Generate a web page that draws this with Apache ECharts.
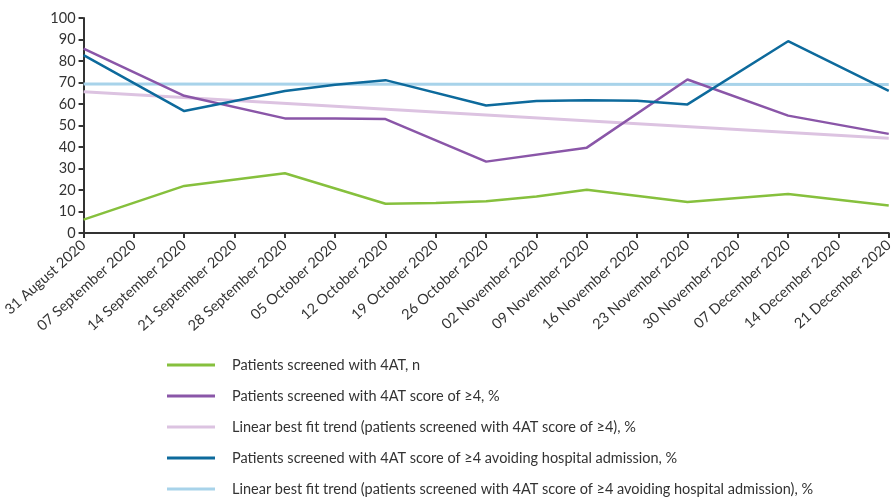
<!DOCTYPE html>
<html>
<head>
<meta charset="utf-8">
<script src="https://cdn.jsdelivr.net/npm/echarts@6/dist/echarts.min.js"></script>
<style>
html,body{margin:0;padding:0;background:#fff;}
#chart{width:896px;height:498px;}
</style>
</head>
<body>
<div id="chart"></div>
<script>
var categories = ['31 August 2020','07 September 2020','14 September 2020','21 September 2020','28 September 2020','05 October 2020','12 October 2020','19 October 2020','26 October 2020','02 November 2020','09 November 2020','16 November 2020','23 November 2020','30 November 2020','07 December 2020','14 December 2020','21 December 2020'];
var yTicks = [0,10,20,30,40,50,60,70,80,90,100];

var screened = [6.2, null, 21.9, null, 27.8, null, 13.6, 14.0, 14.8, 17.0, 20.1, null, 14.4, null, 18.1, null, 12.8];
var score4 = [85.8, null, 63.8, null, 53.3, 53.2, 53.0, null, 33.2, null, 39.7, null, 71.4, null, 54.6, null, 46.1];
var score4Trend = [65.7, null, null, null, null, null, null, null, null, null, null, null, null, null, null, null, 44.1];
var avoiding = [82.7, null, 56.7, null, 66.0, 69.0, 71.1, null, 59.3, 61.4, 61.8, 61.5, 59.8, null, 89.2, null, 66.1];
var avoidingTrend = [69.3, null, null, null, null, null, null, null, null, null, null, null, null, null, null, null, 69.1];

var names = [
  'Patients screened with 4AT, n',
  'Patients screened with 4AT score of \u22654, %',
  'Linear best fit trend (patients screened with 4AT score of \u22654), %',
  'Patients screened with 4AT score of \u22654 avoiding hospital admission, %',
  'Linear best fit trend (patients screened with 4AT score of \u22654 avoiding hospital admission), %'
];
var colors = ['#86c03d','#8a56a8','#dcc3e1','#0d6a9c','#a8d3ea'];
var datas = [screened, score4, score4Trend, avoiding, avoidingTrend];
var widths = [2.5, 2.5, 3, 2.5, 3];
var zs = [3, 3, 1, 3, 1];

var font = 'Lato, "Open Sans", sans-serif';
var chart = echarts.init(document.getElementById('chart'), null, {renderer:'canvas'});
chart.setOption({
  animation: false,
  color: colors,
  grid: {left: 82, right: 3, top: 18, bottom: 265, containLabel: false},
  xAxis: {
    type: 'category',
    data: categories,
    boundaryGap: false,
    axisLine: {lineStyle: {color: '#333', width: 2}},
    axisTick: {show: true, length: 5, lineStyle: {color: '#333', width: 2}},
    axisLabel: {rotate: 42, interval: 0, fontSize: 14.5, color: '#333', fontFamily: font, margin: 10, hideOverlap: false}
  },
  yAxis: {
    type: 'value',
    min: yTicks[0], max: yTicks[yTicks.length-1], interval: 10,
    axisLine: {show: true, lineStyle: {color: '#333', width: 2}},
    axisTick: {show: true, length: 5, lineStyle: {color: '#333', width: 2}},
    splitLine: {show: false},
    axisLabel: {fontSize: 14.5, color: '#333', fontFamily: font, margin: 8}
  },
  legend: {
    orient: 'vertical',
    left: 162,
    top: 352,
    height: 160,
    icon: 'rect',
    itemWidth: 48,
    itemHeight: 3,
    itemGap: 15,
    data: names,
    textStyle: {fontSize: 14.5, color: '#333', fontFamily: font, lineHeight: 16, padding: [0,0,0,12]}
  },
  series: names.map(function(n, i){
    return {
      name: n, type: 'line', data: datas[i], connectNulls: true,
      showSymbol: false, symbol: 'none', z: zs[i],
      lineStyle: {color: colors[i], width: widths[i]},
      itemStyle: {color: colors[i]}
    };
  })
});
</script>
</body>
</html>
